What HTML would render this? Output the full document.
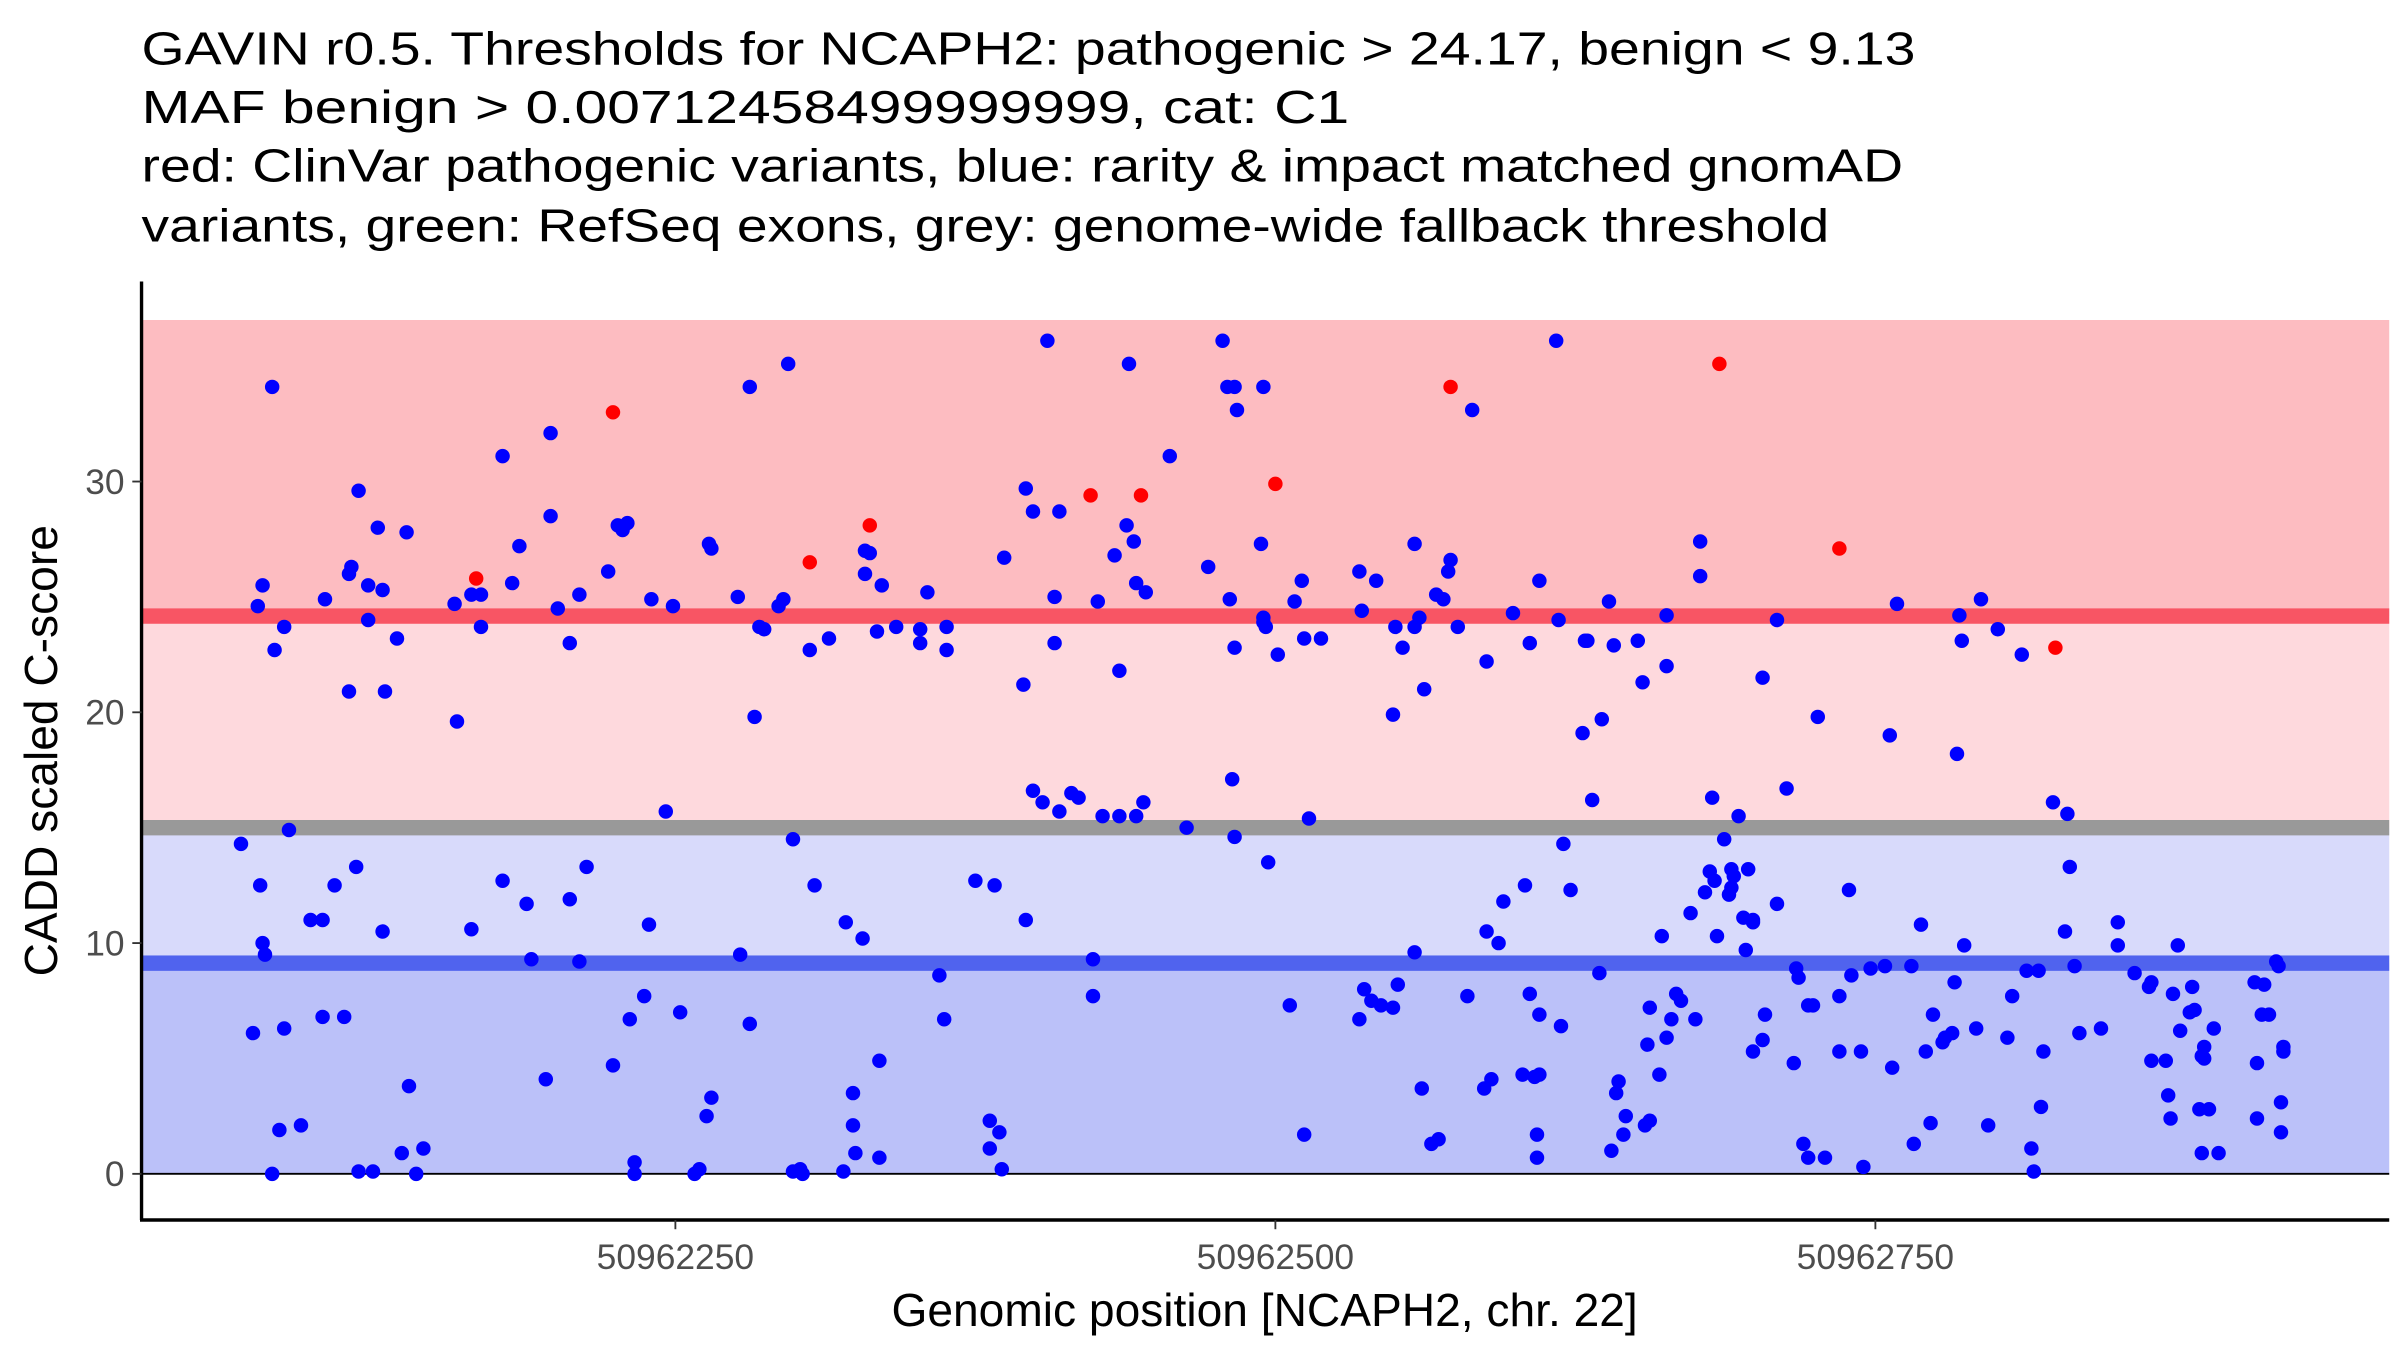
<!DOCTYPE html>
<html><head><meta charset="utf-8"><style>
html,body{margin:0;padding:0;background:#fff;}
svg{display:block;font-family:"Liberation Sans",Arial,sans-serif;}
</style></head><body>
<svg id="chart" width="2400" height="1350" viewBox="0 0 1560 877.5" preserveAspectRatio="none" xmlns="http://www.w3.org/2000/svg">
<g font-size="30" fill="#000">
<text x="92" y="42" textLength="1153" lengthAdjust="spacingAndGlyphs">GAVIN r0.5. Thresholds for NCAPH2: pathogenic &gt; 24.17, benign &lt; 9.13</text>
<text x="92" y="80" textLength="785" lengthAdjust="spacingAndGlyphs">MAF benign &gt; 0.00712458499999999, cat: C1</text>
<text x="92" y="118" textLength="1145" lengthAdjust="spacingAndGlyphs">red: ClinVar pathogenic variants, blue: rarity &amp; impact matched gnomAD</text>
<text x="92" y="157" textLength="1097" lengthAdjust="spacingAndGlyphs">variants, green: RefSeq exons, grey: genome-wide fallback threshold</text>
</g>
<g id="bands"></g>
<g id="points"></g>
<g id="axes"></g>
</svg>
<script>
const xTicks = [50962250, 50962500, 50962750];
const xTickLabels = ["50962250", "50962500", "50962750"];
const yTicks = [0, 10, 20, 30];
const yTickLabels = ["0", "10", "20", "30"];
const pathoThreshold = 24.17;
const benignThreshold = 9.13;
const fallbackThreshold = 15.0;
const yMaxBand = 37;
const redPos = [167,224,306,331,423,444,500,573,685,735,825];
const redScore = [25.8,33.0,26.5,28.1,29.4,29.4,29.9,34.1,35.1,27.1,22.8];
const bluePosOffset = [69,74,76,77,78,78,79,82,83,82,85,87,87,89,94,98,103,104,103,108,112,114,114,115,117,118,118,122,122,124,126,128,129,128,134,136,138,139,142,145,158,159,165,165,169,169,178,178,182,185,188,190,196,198,198,201,206,206,210,213,210,222,224,226,228,230,231,233,233,237,239,240,246,249,252,258,260,263,264,265,265,276,277,281,281,283,285,287,293,295,297,299,299,302,303,306,308,314,320,321,324,324,325,328,329,329,331,334,335,336,335,342,352,352,355,360,362,363,363,375,383,381,381,385,386,387,395,396,396,399,399,403,405,408,408,410,410,415,418,424,424,426,428,433,435,435,438,439,441,442,442,445,446,456,463,472,478,480,481,482,483,483,484,483,494,495,495,495,496,497,501,506,508,511,512,512,514,519,535,535,536,537,540,542,544,549,549,550,551,553,558,558,558,561,560,562,565,567,568,570,572,573,576,580,582,587,588,588,590,593,595,599,603,604,606,606,608,609,609,610,610,610,617,618,619,620,623,628,629,630,632,635,636,639,640,641,642,643,645,646,651,653,654,656,655,656,661,660,663,663,663,665,667,669,673,675,677,677,679,681,682,683,684,687,689,690,690,691,693,695,696,697,699,699,699,703,703,704,709,709,713,716,717,718,720,722,722,724,726,729,735,735,739,740,744,745,748,754,759,757,756,765,766,769,771,773,774,778,779,782,783,784,785,786,787,792,794,797,801,805,807,811,813,815,816,818,819,820,824,829,830,831,833,835,844,851,851,858,864,865,865,871,872,873,874,876,877,881,882,883,885,886,886,887,887,889,891,893,908,909,909,911,912,914,917,918,919,920,920,919];
const blueScore = [14.3,6.1,24.6,12.5,10.0,25.5,9.5,34.1,22.7,0,1.9,23.7,6.3,14.9,2.1,11.0,11.0,24.9,6.8,12.5,6.8,20.9,26.0,26.3,13.3,29.6,0.1,24.0,25.5,0.1,28.0,25.3,20.9,10.5,23.2,0.9,27.8,3.8,0,1.1,24.7,19.6,10.6,25.1,23.7,25.1,31.1,12.7,25.6,27.2,11.7,9.3,4.1,32.1,28.5,24.5,23.0,11.9,9.2,13.3,25.1,26.1,4.7,28.1,27.9,28.2,6.7,0.5,0,7.7,10.8,24.9,15.7,24.6,7.0,0,0.2,2.5,27.3,3.3,27.1,25.0,9.5,6.5,34.1,19.8,23.7,23.6,24.6,24.9,35.1,14.5,0.1,0.2,0,22.7,12.5,23.2,0.1,10.9,3.5,2.1,0.9,10.2,27.0,26.0,26.9,23.5,4.9,25.5,0.7,23.7,23.6,23.0,25.2,8.6,6.7,23.7,22.7,12.7,12.5,2.3,1.1,1.8,0.2,26.7,21.2,29.7,11.0,28.7,16.6,16.1,36.1,25.0,23.0,15.7,28.7,16.5,16.3,9.3,7.7,24.8,15.5,26.8,21.8,15.5,28.1,35.1,27.4,25.6,15.5,16.1,25.2,31.1,15.0,26.3,36.1,34.1,24.9,17.1,34.1,14.6,33.1,22.8,27.3,24.1,23.9,34.1,23.7,13.5,22.5,7.3,24.8,25.7,1.7,23.2,15.4,23.2,26.1,6.7,24.4,8.0,7.5,25.7,7.3,7.2,19.9,23.7,8.2,22.8,23.7,27.3,9.6,3.7,24.1,21.0,1.3,25.1,1.5,24.9,26.1,26.6,23.7,7.7,33.1,3.7,22.2,10.5,4.1,10.0,11.8,24.3,4.3,12.5,23.0,7.8,4.2,1.7,0.7,6.9,25.7,4.3,36.1,24.0,6.4,14.3,12.3,19.1,23.1,23.1,16.2,8.7,19.7,24.8,1.0,22.9,3.5,4.0,1.7,2.5,23.1,21.3,2.1,7.2,5.6,2.3,10.3,4.3,24.2,5.9,22.0,6.7,7.8,7.5,11.3,6.7,25.9,27.4,12.2,13.1,16.3,12.7,10.3,14.5,12.1,12.4,13.2,12.9,15.5,11.1,9.7,13.2,11.0,10.9,5.3,5.8,21.5,6.9,11.7,24.0,16.7,4.8,8.9,8.5,1.3,0.7,7.3,7.3,19.8,0.7,7.7,5.3,12.3,8.6,5.3,0.3,8.9,9.0,24.7,4.6,19.0,9.0,1.3,10.8,5.3,2.2,6.9,5.7,5.9,6.1,8.3,18.2,24.2,23.1,9.9,6.3,24.9,2.1,23.6,5.9,7.7,22.5,8.8,1.1,0.1,8.8,2.9,5.3,16.1,10.5,15.6,13.3,9.0,6.1,6.3,9.9,10.9,8.7,8.1,4.9,8.3,4.9,3.4,2.4,7.8,9.9,6.2,7.0,8.1,7.1,2.8,5.1,0.9,5.0,5.5,2.8,6.3,0.9,8.3,2.4,4.8,6.9,8.2,6.9,9.2,9.0,1.8,5.5,5.3,3.1];

const NS = "http://www.w3.org/2000/svg";
const baseOffset = 50962000;
const PL = 92, PR = 1553, PT = 183, PB = 793;
function xScale(pos){ return 49 + (pos - baseOffset) * 1.56; }
function yScale(v){ return 763 - v * 15; }
function mk(tag, attrs, parent){ const e = document.createElementNS(NS, tag); for (const k in attrs) e.setAttribute(k, attrs[k]); parent.appendChild(e); return e; }

const bands = document.getElementById('bands');
let r;
r = mk('rect', {x:PL, y:yScale(yMaxBand), width:PR-PL, height:yScale(pathoThreshold)-yScale(yMaxBand), fill:'#fdbcc1'}, bands);


r = mk('rect', {x:PL, y:yScale(pathoThreshold), width:PR-PL, height:yScale(fallbackThreshold)-yScale(pathoThreshold), fill:'#fed9dd'}, bands);


r = mk('rect', {x:PL, y:yScale(fallbackThreshold), width:PR-PL, height:yScale(benignThreshold)-yScale(fallbackThreshold), fill:'#d8dafb'}, bands);


r = mk('rect', {x:PL, y:yScale(benignThreshold), width:PR-PL, height:yScale(0)-yScale(benignThreshold), fill:'#bbc1f9'}, bands);


r = mk('rect', {x:PL, y:yScale(fallbackThreshold)-5, width:PR-PL, height:10, fill:'#999999'}, bands);


r = mk('rect', {x:PL, y:yScale(pathoThreshold)-5, width:PR-PL, height:10, fill:'#f85564'}, bands);


r = mk('rect', {x:PL, y:yScale(benignThreshold)-5, width:PR-PL, height:10, fill:'#5063ee'}, bands);


r = mk('line', {x1:PL, x2:PR, y1:yScale(0), y2:yScale(0), stroke:'#000', 'stroke-width':1.2}, bands);



const pts = document.getElementById('points');
for (let i = 0; i < bluePosOffset.length; i++) {
  const c = mk('circle', {cx:xScale(baseOffset + bluePosOffset[i]), cy:yScale(blueScore[i]), r:4.7, fill:'#0000ff'}, pts);
  
  
}
for (let i = 0; i < redPos.length; i++) {
  const c = mk('circle', {cx:xScale(baseOffset + redPos[i]), cy:yScale(redScore[i]), r:4.7, fill:'#ff0000'}, pts);
  
  
}

const ax = document.getElementById('axes');
let a;
a = mk('line', {x1:PL, x2:PL, y1:PT, y2:PB, stroke:'#000', 'stroke-width':2.2}, ax);


a = mk('line', {x1:PL-1, x2:PR, y1:PB, y2:PB, stroke:'#000', 'stroke-width':2.2}, ax);


for (let i = 0; i < xTicks.length; i++) {
  const x = xScale(xTicks[i]);
  const t = mk('line', {x1:x, x2:x, y1:PB, y2:PB+6, stroke:'#333', 'stroke-width':1.2}, ax);
  
  
  const l = mk('text', {x:x, y:PB+32, 'text-anchor':'middle', 'font-size':23, fill:'#4d4d4d'}, ax);
  l.textContent = xTickLabels[i];
  
  
}
for (let i = 0; i < yTicks.length; i++) {
  const y = yScale(yTicks[i]);
  const t = mk('line', {x1:PL-6, x2:PL, y1:y, y2:y, stroke:'#333', 'stroke-width':1.2}, ax);
  
  
  const l = mk('text', {x:PL-11, y:y+8, 'text-anchor':'end', 'font-size':23, fill:'#4d4d4d'}, ax);
  l.textContent = yTickLabels[i];
  
  
}
a = mk('text', {x:822, y:862, 'text-anchor':'middle', 'font-size':30, fill:'#000'}, ax);
a.textContent = 'Genomic position [NCAPH2, chr. 22]';


a = mk('text', {x:0, y:0, 'text-anchor':'middle', 'font-size':30, fill:'#000', transform:'translate(37,488) rotate(-90)'}, ax);
a.textContent = 'CADD scaled C-score';


</script>
</body></html>
